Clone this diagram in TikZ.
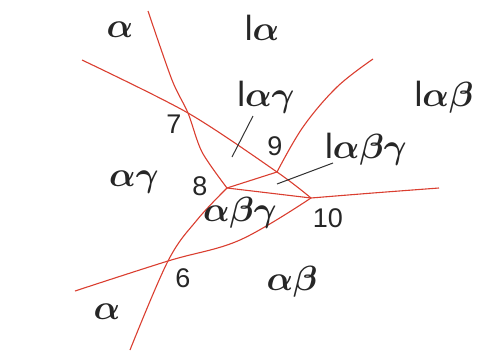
\RequirePackage{fix-cm}
\documentclass[tikz,border=0pt]{standalone}
\usepackage{fontspec}
\newfontfamily\numfont{Liberation Sans}
\definecolor{phasered}{RGB}{218,62,48}
\begin{document}
\begin{tikzpicture}[x=1pt,y=-1pt,
  phase/.style={phasered, line width=1.1pt},
  leader/.style={black!80, line width=1pt},
  greek/.style={inner sep=0pt, text=black!85, font=\fontsize{35}{35}\selectfont\boldmath},
  num/.style={inner sep=0pt, text=black!85, font=\numfont\fontsize{27}{27}\selectfont}]
\useasboundingbox (0,0) rectangle (480,351);
% invariant points
\coordinate (p7) at (188,113);
\coordinate (p8) at (227,188);
\coordinate (p9) at (277,172);
\coordinate (p10) at (311,198);
\coordinate (p6) at (168,261);
% free ends
\coordinate (eTop) at (148,11);
\coordinate (eLeft) at (82,60);
\coordinate (eTR) at (373,59);
\coordinate (eRight) at (439,188);
\coordinate (eLow) at (75,291);
\coordinate (eBot) at (130,350);
% phase boundaries
\draw[phase] plot[smooth, tension=0.5] coordinates {(eTop) (172,80) (p7) (202,152) (p8)};
\draw[phase] plot[smooth, tension=0.5] coordinates {(eLeft) (p7) (p9) (p10)};
\draw[phase] plot[smooth, tension=0.6] coordinates {(p9) (303,127) (337,87) (eTR)};
\draw[phase] (p8) -- (p9);
\draw[phase] (p8) -- (p10);
\draw[phase] plot[smooth, tension=0.5] coordinates {(p10) (373,193) (eRight)};
\draw[phase] plot[smooth, tension=0.6] coordinates {(p10) (240,240) (p6) (eLow)};
\draw[phase] plot[smooth, tension=0.6] coordinates {(p8) (197,220) (p6) (eBot)};
% field labels
\node[greek] (a1) at (120,30) {$\alpha$};
\node[greek] (la) at (262,28) {{\numfont l}$\alpha$};
\node[greek] (lag) at (266,97) {{\numfont l}$\alpha\gamma$};
\node[greek] (lab) at (444,97) {{\numfont l}$\alpha\beta$};
\node[greek] (labg) at (366,149) {{\numfont l}$\alpha\beta\gamma$};
\node[greek] (ag) at (134,182) {$\alpha\gamma$};
\node[greek] (abg) at (240,213) {$\alpha\beta\gamma$};
\node[greek] (ab) at (292,282) {$\alpha\beta$};
\node[greek] (a2) at (107,312) {$\alpha$};
% point numbers
\node[num] (n7) at (174,124) {7};
\node[num] (n8) at (200,186) {8};
\node[num] (n9) at (275,146) {9};
\node[num] (n10) at (328,218) {10};
\node[num] (n6) at (183,278) {6};
% leaders
\coordinate (lagEnd) at (232,157);
\coordinate (labgEnd) at (277,184);
\draw[leader] (253,116) -- (lagEnd);
\draw[leader] (333,163) -- (labgEnd);
\end{tikzpicture}
\end{document}
